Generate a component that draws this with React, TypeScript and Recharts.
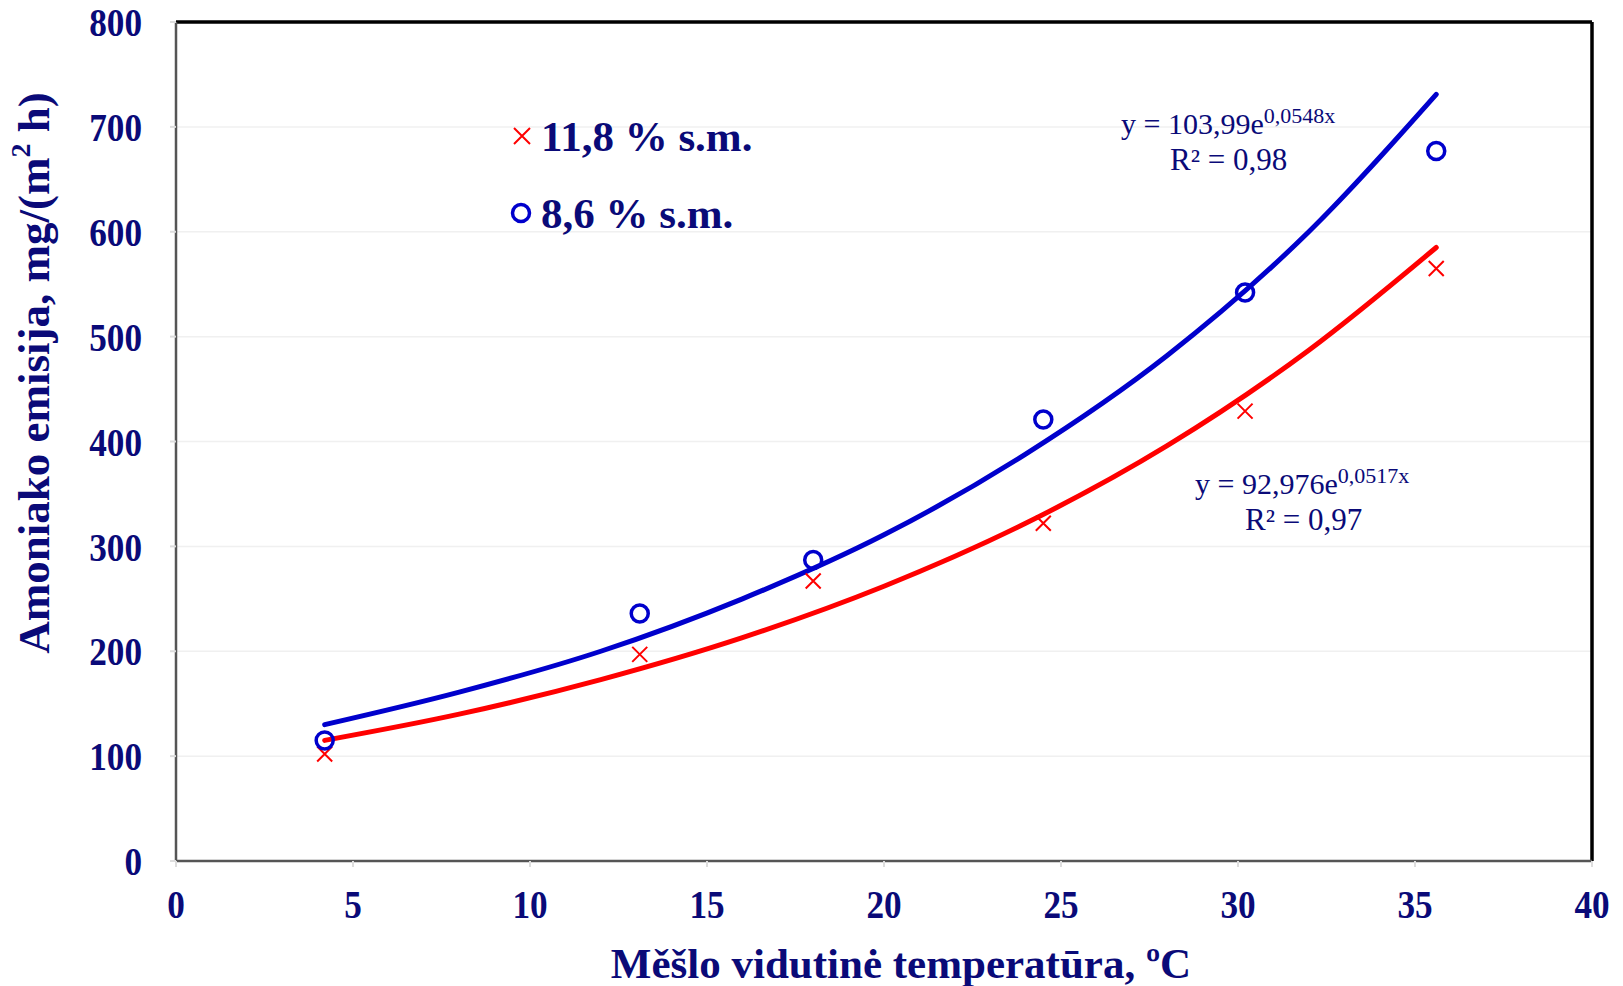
import React from "react";
import {
  ComposedChart,
  Line,
  Scatter,
  XAxis,
  YAxis,
  CartesianGrid,
  ReferenceLine,
} from "recharts";

// Measured points (temperature °C, ammonia emission mg/(m² h))
const tempsRed = [4.2, 13.1, 18.0, 24.5, 30.2, 35.6];
const valuesRed = [102, 197, 267, 322, 429, 565];
const tempsBlue = [4.2, 13.1, 18.0, 24.5, 30.2, 35.6];
const valuesBlue = [115, 236, 287, 421, 542, 677];

// Trendline values
const trendX = [4.2, 8, 12, 16, 20, 24, 28, 32, 35.6];
const trendRed = [115, 140, 173, 213, 262, 322, 396, 487, 585];
const trendBlue = [130, 161, 200, 250, 311, 388, 482, 600, 731];

const xTicks = [0, 5, 10, 15, 20, 25, 30, 35, 40];
const yTicks = [0, 100, 200, 300, 400, 500, 600, 700, 800];

const legendLabels = ["11,8 % s.m.", "8,6 % s.m."];
const eqBlue = { base: "y = 103,99e", exp: "0,0548x", r2: "R² = 0,98" };
const eqRed = { base: "y = 92,976e", exp: "0,0517x", r2: "R² = 0,97" };

const redPts = tempsRed.map((x, i) => ({ x, y: valuesRed[i] }));
const bluePts = tempsBlue.map((x, i) => ({ x, y: valuesBlue[i] }));
const redTrend = trendX.map((x, i) => ({ x, y: trendRed[i] }));
const blueTrend = trendX.map((x, i) => ({ x, y: trendBlue[i] }));

const NAVY = "#0a0a78";
const FONT = "'Liberation Serif', 'Times New Roman', serif";
const RED = "#ff0000";
const BLUE = "#0000cc";

const CrossShape = (props: any) => {
  const { cx, cy } = props;
  if (cx == null || cy == null) return null;
  const s = 7.5;
  return (
    <path
      d={`M${cx - s},${cy - s}L${cx + s},${cy + s}M${cx - s},${cy + s}L${cx + s},${cy - s}`}
      stroke={RED}
      strokeWidth={2}
      fill="none"
    />
  );
};

const CircleShape = (props: any) => {
  const { cx, cy } = props;
  if (cx == null || cy == null) return null;
  return <circle cx={cx} cy={cy} r={8.5} stroke={BLUE} strokeWidth={3.5} fill="none" />;
};

const XTick = (props: any) => {
  const { x, y, payload } = props;
  return (
    <text
      transform={`translate(${x},${y}) scale(0.88,1)`}
      textAnchor="middle"
      dy="0.71em"
      fill={NAVY}
      fontFamily={FONT}
      fontWeight={700}
      fontSize={40}
    >
      {payload.value}
    </text>
  );
};

const YTick = (props: any) => {
  const { x, y, payload } = props;
  return (
    <text
      transform={`translate(${x},${y}) scale(0.88,1)`}
      textAnchor="end"
      dy="0.355em"
      fill={NAVY}
      fontFamily={FONT}
      fontWeight={700}
      fontSize={40}
    >
      {payload.value}
    </text>
  );
};

export default function App() {
  return (
    <div
      style={{
        position: "absolute",
        left: 0,
        top: 0,
        width: 1623,
        height: 986,
        background: "#fff",
      }}
    >
      <ComposedChart
        width={1623}
        height={986}
        margin={{ top: 22, right: 31, bottom: 0, left: 0 }}
      >
        <CartesianGrid vertical={false} stroke="#f0f0f0" strokeWidth={1.5} />
        <XAxis
          dataKey="x"
          type="number"
          domain={[0, 40]}
          ticks={xTicks}
          allowDataOverflow
          height={125}
          tickSize={6}
          tickMargin={23}
          tickLine={{ stroke: "#dddddd", strokeWidth: 2 }}
          axisLine={{ stroke: "#555", strokeWidth: 2.5 }}
          tick={<XTick />}
        />
        <YAxis
          dataKey="y"
          type="number"
          domain={[0, 800]}
          ticks={yTicks}
          allowDataOverflow
          width={176}
          tickSize={6}
          tickMargin={28}
          tickLine={{ stroke: "#dddddd", strokeWidth: 2 }}
          axisLine={{ stroke: "#555", strokeWidth: 2.5 }}
          tick={<YTick />}
        />
        <ReferenceLine y={800} stroke="#000" strokeWidth={3.5} ifOverflow="visible" />
        <ReferenceLine x={40} stroke="#000" strokeWidth={3.5} ifOverflow="visible" />
        <Line
          data={redTrend}
          dataKey="y"
          type="monotone"
          stroke={RED}
          strokeWidth={5}
          dot={false}
          activeDot={false}
          isAnimationActive={false}
          strokeLinecap="round"
        />
        <Line
          data={blueTrend}
          dataKey="y"
          type="monotone"
          stroke={BLUE}
          strokeWidth={5}
          dot={false}
          activeDot={false}
          isAnimationActive={false}
          strokeLinecap="round"
        />
        <Scatter data={redPts} dataKey="y" shape={CrossShape} isAnimationActive={false} />
        <Scatter data={bluePts} dataKey="y" shape={CircleShape} isAnimationActive={false} />
      </ComposedChart>
      <svg
        width={1623}
        height={986}
        style={{ position: "absolute", left: 0, top: 0, pointerEvents: "none" }}
      >
        {/* Axis titles */}
        <text
          x={34}
          y={373}
          transform="rotate(-90 34 373)"
          textAnchor="middle"
          dominantBaseline="central"
          fill={NAVY}
          fontFamily={FONT}
          fontWeight={700}
          fontSize={45}
        >
          Amoniako emisija, mg/(m
          <tspan fontSize={28} dy={-14}>2</tspan>
          <tspan dy={14}> h)</tspan>
        </text>
        <text
          x={901}
          y={978}
          textAnchor="middle"
          fill={NAVY}
          fontFamily={FONT}
          fontWeight={700}
          fontSize={43}
        >
          Měšlo vidutinė temperatūra, ºC
        </text>
        {/* Legend */}
        <path d="M514,128L530,144M514,144L530,128" stroke={RED} strokeWidth={2} />
        <text x={541} y={151} fill={NAVY} fontFamily={FONT} fontWeight={700} fontSize={43}>
          {legendLabels[0]}
        </text>
        <circle cx={521} cy={213} r={8.5} stroke={BLUE} strokeWidth={3.5} fill="none" />
        <text x={541} y={228} fill={NAVY} fontFamily={FONT} fontWeight={700} fontSize={43}>
          {legendLabels[1]}
        </text>
        {/* Trend equations */}
        <text x={1121} y={134} fill={NAVY} fontFamily={FONT} fontSize={30}>
          {eqBlue.base}
          <tspan fontSize={22} dy={-11}>{eqBlue.exp}</tspan>
        </text>
        <text x={1170} y={170} fill={NAVY} fontFamily={FONT} fontSize={31}>
          {eqBlue.r2}
        </text>
        <text x={1195} y={494} fill={NAVY} fontFamily={FONT} fontSize={30}>
          {eqRed.base}
          <tspan fontSize={22} dy={-11}>{eqRed.exp}</tspan>
        </text>
        <text x={1245} y={530} fill={NAVY} fontFamily={FONT} fontSize={31}>
          {eqRed.r2}
        </text>
      </svg>
    </div>
  );
}
